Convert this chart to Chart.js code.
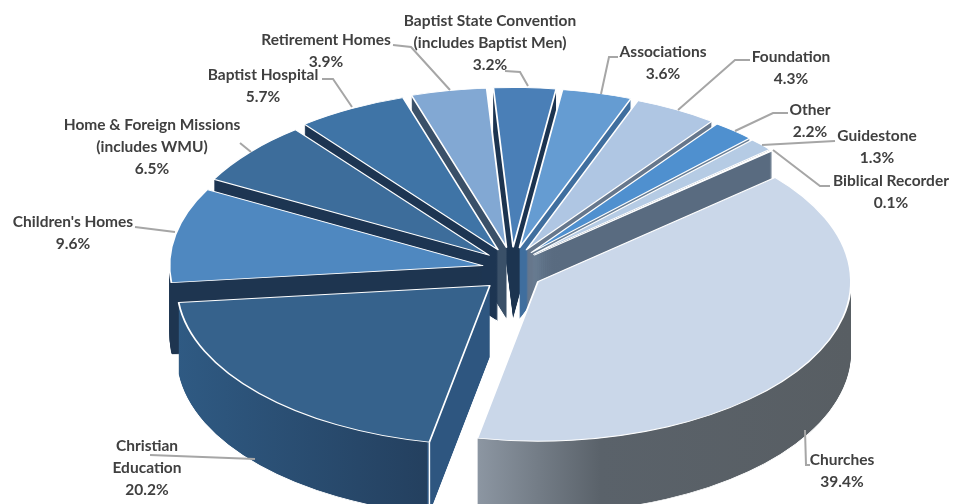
<!DOCTYPE html>
<html lang="en">
<head>
    <meta charset="UTF-8">
    <title>Budget share</title>
    <script src="https://cdn.jsdelivr.net/npm/chart.js@4/dist/chart.umd.js"></script>
    <style>
        html, body { margin: 0; padding: 0; background: #fff; }
        canvas { display: block; }
    </style>
</head>
<body>
    <canvas id="chart" width="953" height="504"></canvas>

    <script>
        const categories = [
            ['Churches'],
            ['Christian', 'Education'],
            ["Children's Homes"],
            ['Home & Foreign Missions', '(includes WMU)'],
            ['Baptist Hospital'],
            ['Retirement Homes'],
            ['Baptist State Convention', '(includes Baptist Men)'],
            ['Associations'],
            ['Foundation'],
            ['Other'],
            ['Guidestone'],
            ['Biblical Recorder']
        ]
        const shares = [39.4, 20.2, 9.6, 6.5, 5.7, 3.9, 3.2, 3.6, 4.3, 2.2, 1.3, 0.1]

        const topColors = ['#cad7e9', '#36628c', '#4f88c0', '#3d6d9b', '#3f74a6', '#82a8d3',
            '#4a7fb7', '#659cd2', '#afc6e3', '#4f90cf', '#b5cbe4', '#cfdcec']
        // wall colours: [position across the pie, colour]
        const wallStops = [
            [[0, '#8d97a3'], [0.40, '#8d97a3'], [0.60, '#5a626a'], [1, '#585e63']],
            [[0, '#2f5a83'], [0.399, '#24405f'], [0.40, '#2e5680'], [1, '#2e5680']],
            [[0, '#1e3550'], [1, '#1e3550']],
            [[0, '#1d3552'], [1, '#1d3552']],
            [[0, '#1d3552'], [1, '#1d3552']],
            [[0, '#3a5068'], [1, '#3a5068']],
            [[0, '#1c3450'], [1, '#1c3450']],
            [[0, '#3f6e9e'], [1, '#3f6e9e']],
            [[0, '#66778c'], [1, '#66778c']],
            [[0, '#6a7f95'], [1, '#6a7f95']],
            [[0, '#596b80'], [1, '#596b80']],
            [[0, '#596b80'], [1, '#596b80']]
        ]

        // label centre (first line) and leader line for each category
        const labelAt = [[842, 460], [147, 446], [73, 222], [152, 125], [263, 75], [326, 40],
            [490, 21], [663, 52], [791, 57], [810, 110], [877, 136], [891, 181]]
        const leaders = [
            [[810, 465], [806, 465], [805, 430]],
            [[150, 455], [255, 459]],
            [[135, 227], [175, 232]],
            [[240, 143], [251, 152]],
            [[322, 79], [333, 79], [352, 107]],
            [[393, 45], [411, 47], [450, 90]],
            [[505, 71], [520, 72], [528, 86]],
            [[618, 57], [609, 57], [601, 94]],
            [[750, 60], [735, 60], [678, 110]],
            [[788, 113], [773, 113], [735, 131]],
            [[835, 141], [762, 145]],
            [[830, 186], [820, 186], [773, 150]]
        ]

        const squash = 0.51
        const depth = 72
        const explode = 30
        const explodeY = 45
        const edgeSlice = 1

        function arcOptions(fill, stroke, width) {
            return { backgroundColor: fill, borderColor: stroke, borderWidth: width, borderAlign: 'center',
                borderJoinStyle: 'round', borderRadius: 0, borderDash: [], borderDashOffset: 0,
                offset: 0, spacing: 0, circular: true }
        }

        const pie3d = {
            id: 'pie3d',
            beforeDatasetsDraw(chart) {
                const ctx = chart.ctx
                const arcs = chart.getDatasetMeta(0).data
                const order = arcs.map((a, i) => i).sort((a, b) => {
                    const mid = i => Math.sin((arcs[i].startAngle + arcs[i].endAngle) / 2)
                    return mid(a) - mid(b)
                })
                order.forEach(i => {
                    const arc = arcs[i]
                    const keep = arc.options
                    const half = (arc.startAngle + arc.endAngle) / 2
                    const r = arc.outerRadius
                    ctx.save()
                    ctx.translate(0, arc.y)
                    ctx.scale(1, squash)
                    ctx.translate(0, -arc.y)
                    ctx.translate(Math.cos(half) * explode, Math.sin(half) * explodeY)

                    const grad = ctx.createLinearGradient(arc.x - r, 0, arc.x + r, 0)
                    wallStops[i].forEach(s => grad.addColorStop(s[0], s[1]))

                    // bottom layer with a white outline, then the wall on top of it
                    ctx.save()
                    ctx.translate(0, depth / squash)
                    arc.options = arcOptions(grad, '#ffffff', 1.5)
                    arc.draw(ctx)
                    ctx.restore()
                    arc.options = arcOptions(grad, grad, 0)
                    for (let d = depth - 1; d > 0; d--) {
                        ctx.save()
                        ctx.translate(0, d / squash)
                        arc.draw(ctx)
                        ctx.restore()
                    }

                    if (i === edgeSlice) {
                        const ex = arc.x + r * Math.cos(arc.startAngle)
                        const ey = arc.y + r * Math.sin(arc.startAngle)
                        ctx.strokeStyle = '#ffffff'
                        ctx.lineWidth = 1.5
                        ctx.beginPath()
                        ctx.moveTo(ex, ey)
                        ctx.lineTo(ex, ey + depth / squash)
                        ctx.stroke()
                    }

                    arc.options = arcOptions(topColors[i], '#ffffff', 1.8)
                    arc.draw(ctx)
                    arc.options = keep
                    ctx.restore()
                })
                return false
            },
            afterDraw(chart) {
                const ctx = chart.ctx
                ctx.save()
                ctx.strokeStyle = '#a6a6a6'
                ctx.lineWidth = 2
                leaders.forEach(line => {
                    ctx.beginPath()
                    line.forEach((p, k) => k ? ctx.lineTo(p[0], p[1]) : ctx.moveTo(p[0], p[1]))
                    ctx.stroke()
                })
                ctx.fillStyle = '#404040'
                ctx.font = 'bold 15.5px Lato'
                ctx.textAlign = 'center'
                ctx.textBaseline = 'middle'
                categories.forEach((lines, i) => {
                    const rows = lines.concat(shares[i].toFixed(1) + '%')
                    rows.forEach((row, k) => ctx.fillText(row, labelAt[i][0], labelAt[i][1] + k * 22))
                })
                ctx.restore()
            }
        }

        new Chart(document.getElementById('chart').getContext('2d'), {
            type: 'pie',
            data: {
                labels: categories,
                datasets: [{ data: shares, backgroundColor: topColors, borderColor: '#ffffff', borderWidth: 1.8 }]
            },
            options: {
                responsive: false,
                animation: false,
                rotation: 49.3,
                radius: 313,
                layout: { padding: { left: 71, top: 36 } },
                plugins: { legend: { display: false }, tooltip: { enabled: false } }
            },
            plugins: [pie3d]
        })
    </script>
</body>
</html>
